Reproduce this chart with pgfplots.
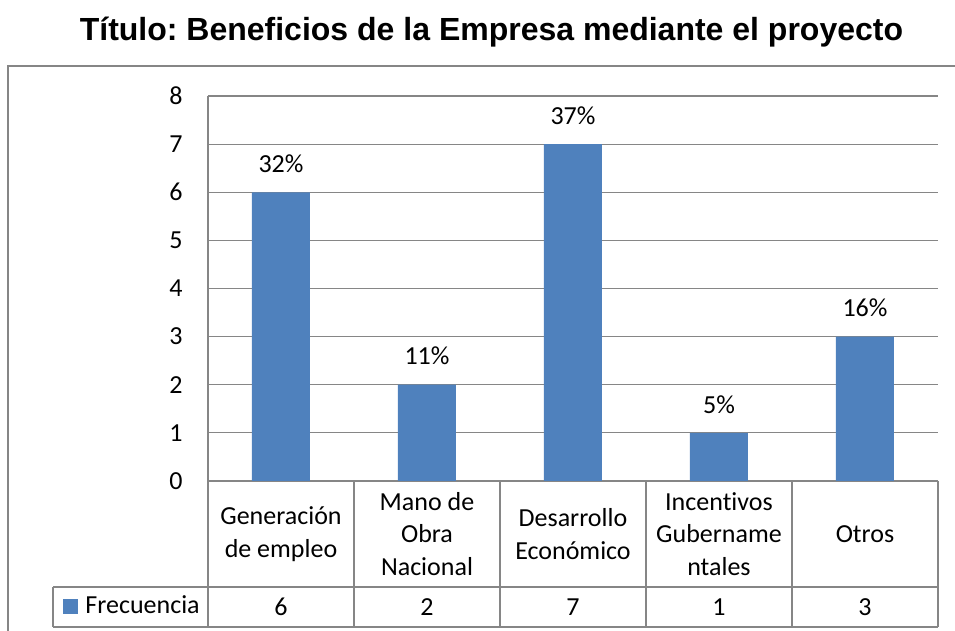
\documentclass[border=0pt]{standalone}
\usepackage{fontspec}
\setmainfont{Carlito}[RawFeature={-liga;-clig;-calt}]
\newfontfamily\titlefont{Liberation Sans}
\usepackage{pgfplots}
\pgfplotsset{compat=1.18}
\usepackage{pgfplotstable}
\definecolor{barblue}{RGB}{79,129,189}
\definecolor{linegray}{RGB}{134,134,134}
\frenchspacing

% frecuencia y porcentaje por categoria
\pgfplotstableread{
x f pct
0 6 32
1 2 11
2 7 37
3 1 5
4 3 16
}\datos

\begin{document}
\begin{tikzpicture}
\useasboundingbox (0,0) rectangle (477.5pt,315.5pt);
\clip (0,0) rectangle (477.5pt,315.5pt);
\draw[linegray, line width=0.6pt] (4pt,-10pt) rectangle (500pt,282.5pt);
\node[font=\titlefont\bfseries\fontsize{16}{19}\selectfont] at (245.75pt,299.5pt)
  {Título: Beneficios de la Empresa mediante el proyecto};
\begin{axis}[
    at={(104pt,75pt)}, anchor=south west,
    scale only axis, width=365pt, height=192.5pt,
    xmin=-0.5, xmax=4.5, ymin=0, ymax=8,
    ytick={0,...,8},
    xtick={0,...,4},
    xticklabels={Generación\\de empleo, Mano de\\Obra\\Nacional, Desarrollo\\Económico, Incentivos\\Gubername\\ntales, Otros},
    major tick length=0pt,
    axis x line*=bottom, axis y line*=left,
    axis line style={draw=linegray, line width=0.6pt, -},
    ymajorgrids, grid style={linegray, line width=0.6pt},
    bar width=29pt,
    font=\fontsize{13}{16.25}\selectfont,
    /pgf/number format/assume math mode=true,
    yticklabel style={anchor=east, inner sep=0pt, xshift=-12.5pt},
    xticklabel style={anchor=center, align=center, inner sep=0pt, yshift=-26.5pt},
    clip=false,
    legend style={at={(-0.1986,-0.326)}, anchor=west, draw=none, fill=none,
        inner sep=0pt, nodes={inner sep=0pt}, column sep=3.5pt,
        font=\fontsize{13}{16.25}\selectfont},
    legend image code/.code={\fill[barblue] (0pt,-3.75pt) rectangle (7.5pt,3.75pt);},
]
\addplot[ybar, fill=barblue, draw=none,
    point meta=\thisrow{pct},
    nodes near coords={\pgfmathprintnumber{\pgfplotspointmeta}\%},
    nodes near coords style={anchor=base, inner sep=0pt, yshift=9.9pt}]
    table[x=x, y=f] {\datos};
\addlegendentry{Frecuencia}
% fila de valores de la tabla de datos
\addplot[draw=none, mark=none, forget plot,
    point meta=\thisrow{f},
    nodes near coords,
    nodes near coords style={anchor=center, inner sep=0pt, yshift=-63pt}]
    table[x=x, y expr=0] {\datos};
\end{axis}
\draw[linegray, line width=0.6pt] (26.5pt,22pt) -- (469pt,22pt)
  (26.5pt,2pt) -- (469pt,2pt) (26.5pt,2pt) -- (26.5pt,22pt);
\foreach \x in {104,177,250,323,396,469}
  \draw[linegray, line width=0.6pt] (\x pt,75pt) -- (\x pt,2pt);
\end{tikzpicture}
\end{document}
